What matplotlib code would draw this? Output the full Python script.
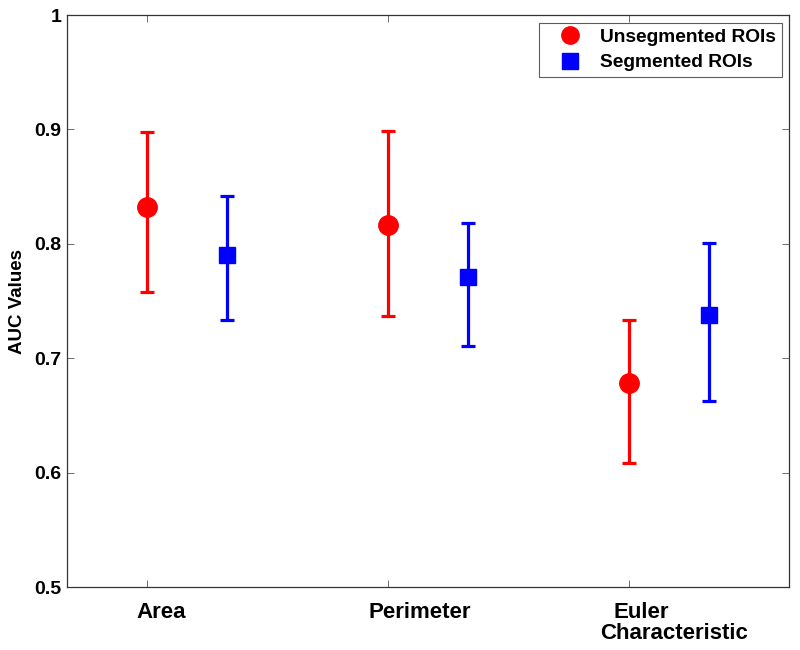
import matplotlib
matplotlib.use("Agg")
import matplotlib.pyplot as plt
from matplotlib.lines import Line2D
from matplotlib.transforms import offset_copy
import numpy as np

plt.rcParams['font.family'] = ['Liberation Sans', 'DejaVu Sans']

categories = ["Area", "Perimeter", "Euler\nCharacteristic"]
unseg_auc = [0.832, 0.816, 0.678]
unseg_low = [0.758, 0.737, 0.608]
unseg_high = [0.898, 0.899, 0.733]
seg_auc = [0.790, 0.771, 0.738]
seg_low = [0.733, 0.711, 0.663]
seg_high = [0.842, 0.818, 0.801]
yticks = [0.5, 0.6, 0.7, 0.8, 0.9, 1.0]
ytick_labels = ["0.5", "0.6", "0.7", "0.8", "0.9", "1"]

RED = '#ff0000'
BLUE = '#0000ff'

fig = plt.figure(figsize=(8, 6.5), dpi=100)
ax = fig.add_axes([67/800, 63/650, 722/800, 572/650])

x = np.arange(1, len(categories) + 1)
xs = x + 1/3

u = np.array(unseg_auc)
ax.errorbar(x, u, yerr=[u - np.array(unseg_low), np.array(unseg_high) - u],
            fmt='o', color=RED, ecolor=RED, markersize=14,
            elinewidth=2.3, capsize=4.8, capthick=2.3)
s = np.array(seg_auc)
ax.errorbar(xs, s, yerr=[s - np.array(seg_low), np.array(seg_high) - s],
            fmt='s', color=BLUE, ecolor=BLUE, markersize=11,
            elinewidth=2.3, capsize=4.8, capthick=2.3)

ax.set_xlim(0.668, 3.664)
ax.set_ylim(0.5, 1.0)
ax.set_yticks(yticks)
ax.set_yticklabels(ytick_labels, fontsize=14, fontweight='bold')
ax.set_xticks(x)
ax.set_xticklabels([])
ax.tick_params(direction='in', top=True, right=True, length=5, width=0.6,
               color='#555555', pad=4)
for sp in ax.spines.values():
    sp.set_linewidth(0.9)
    sp.set_color('#333333')

# category labels (MATLAB-style text placement, each line positioned separately)
label_offsets = [[0.06], [0.133], [0.05, 0.187]]
for xi, lab, offs in zip(x, categories, label_offsets):
    for k, (line, off) in enumerate(zip(lab.split("\n"), offs)):
        tr = offset_copy(ax.transData, fig=fig, x=0, y=-(15 + 21 * k), units='dots')
        ax.text(xi + off, 0.5, line, transform=tr, ha='center', va='top',
                fontsize=16, fontweight='bold')

ax.set_ylabel("AUC Values", fontsize=13.5, fontweight='bold', labelpad=6)

handles = [
    Line2D([], [], linestyle='none', marker='o', color=RED, markersize=12.5),
    Line2D([], [], linestyle='none', marker='s', color=BLUE, markersize=11),
]
leg = ax.legend(handles, ["Unsegmented ROIs", "Segmented ROIs"],
                loc='upper right', bbox_to_anchor=(1 - 7/722, 1 - 8/572),
                prop={'weight': 'bold', 'size': 13.8},
                frameon=True, fancybox=False, edgecolor='#333333', borderaxespad=0,
                borderpad=0.3, handlelength=2.6, handletextpad=0.3, labelspacing=0.4)
leg.get_frame().set_linewidth(0.8)

fig.savefig("out.png", dpi=100)
